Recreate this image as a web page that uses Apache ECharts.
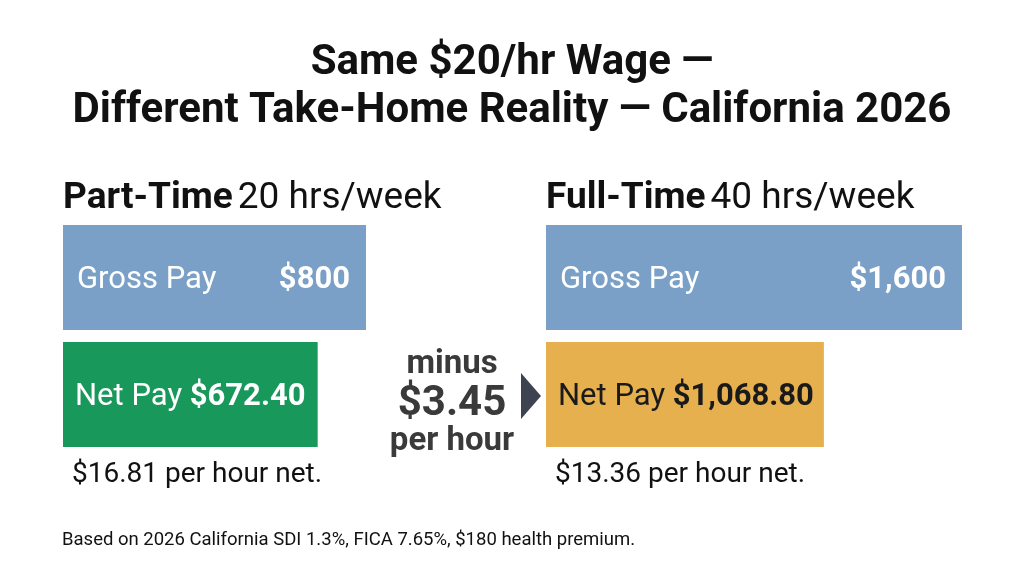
<!DOCTYPE html>
<html><head><meta charset="utf-8">
<script src="https://cdn.jsdelivr.net/npm/echarts@6/dist/echarts.min.js"></script>
<style>html,body{margin:0;padding:0;background:#fff}#c{width:1024px;height:572px}</style>
</head><body><div id="c"></div>
<script>
const categories = ['Gross Pay', 'Net Pay'];
const panels = ['Part-Time', 'Full-Time'];
const hoursPerWeek = [20, 40];
const grossPay = [800, 1600];
const netPay = [672.40, 1068.80];
const netPerHour = [16.81, 13.36];
const minusPerHour = 3.45;
const footnote = 'Based on 2026 California SDI 1.3%, FICA 7.65%, $180 health premium.';

const F = 'Roboto';
const fmt = (v, d) => '$' + v.toLocaleString('en-US', {minimumFractionDigits: d, maximumFractionDigits: d});
const netColors = ['#18985b', '#e6b04f'];
const netText = ['#ffffff', '#1a1a1a'];
const gridLefts = [63, 546];
const gridWidths = [303, 416];

const chart = echarts.init(document.getElementById('c'));
const grids = [], xAxes = [], yAxes = [], series = [];
panels.forEach((p, i) => {
  grids.push({left: gridLefts[i], top: 219, width: gridWidths[i], height: 234});
  xAxes.push({type: 'value', gridIndex: i, min: 0, max: grossPay[i], show: false});
  yAxes.push({type: 'category', gridIndex: i, data: categories, inverse: true, show: false});
  series.push({
    type: 'bar', xAxisIndex: i, yAxisIndex: i, barWidth: 105, silent: true,
    data: [
      {value: grossPay[i], itemStyle: {color: '#7aa0c7'},
       label: {show: true, position: 'insideLeft', distance: 14, offset: [0, 3], formatter: categories[0],
               color: '#fff', fontFamily: F, fontSize: 31}},
      {value: netPay[i], itemStyle: {color: netColors[i]},
       label: {show: true, position: 'insideLeft', distance: 12, offset: [0, 3],
               formatter: '{a|' + categories[1] + ' }{b|' + fmt(netPay[i], 2) + '}',
               rich: {a: {color: netText[i], fontFamily: F, fontSize: 31},
                      b: {color: netText[i], fontFamily: F, fontSize: 31, fontWeight: 'bold'}}}}
    ]
  });
  series.push({
    type: 'bar', xAxisIndex: i, yAxisIndex: i, barWidth: 105, barGap: '-100%', silent: true,
    itemStyle: {color: 'rgba(0,0,0,0)'},
    data: [grossPay[i], '-'],
    label: {show: true, position: 'insideRight', distance: 16, offset: [0, 3],
            formatter: (d) => fmt(d.value, 0), color: '#fff', fontFamily: F, fontSize: 31, fontWeight: 'bold'}
  });
});

const titles = [
  {text: 'Same $20/hr Wage —\nDifferent Take-Home Reality — California 2026', left: 'center', top: 39, padding: 0,
   textStyle: {fontFamily: F, fontSize: 42, fontWeight: 'bold', color: '#111', lineHeight: 48}},
];
panels.forEach((p, i) => {
  titles.push({text: '{a|' + p + '} {b|' + hoursPerWeek[i] + ' hrs/week}', left: gridLefts[i], top: 180, padding: 0,
    textStyle: {fontWeight: 'normal', rich: {a: {fontFamily: F, fontSize: 37, fontWeight: 'bold', color: '#111'},
                       b: {fontFamily: F, fontSize: 37, fontWeight: 'normal', color: '#111'}}}});
  titles.push({text: fmt(netPerHour[i], 2) + ' per hour net.', left: gridLefts[i] + 9, top: 461, padding: 0,
    textStyle: {fontFamily: F, fontSize: 28, fontWeight: 'normal', color: '#111'}});
});
titles.push({text: '{a|minus}\n{b|' + fmt(minusPerHour, 2) + '}\n{c|per hour}', left: 452, top: 346, textAlign: 'center', padding: 0,
  textStyle: {rich: {a: {fontFamily: F, fontSize: 33, fontWeight: 'bold', color: '#3a3a3a', lineHeight: 38, align: 'center'},
                     b: {fontFamily: F, fontSize: 42, fontWeight: 'bold', color: '#3a3a3a', lineHeight: 40, align: 'center'},
                     c: {fontFamily: F, fontSize: 33, fontWeight: 'bold', color: '#3a3a3a', lineHeight: 36, align: 'center'}}}});
titles.push({text: footnote, left: 62, top: 531, padding: 0,
  textStyle: {fontFamily: F, fontSize: 18.5, fontWeight: 'normal', color: '#111'}});

chart.setOption({
  animation: false,
  backgroundColor: '#fff',
  title: titles,
  grid: grids, xAxis: xAxes, yAxis: yAxes, series: series,
  graphic: [{type: 'polygon', shape: {points: [[521, 373], [541, 396], [521, 419]]}, style: {fill: '#3d4350'}}]
});
</script></body></html>
